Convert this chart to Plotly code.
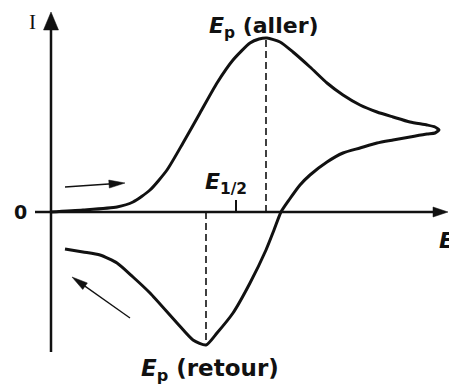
import plotly.graph_objects as go

# Cyclic voltammogram sketch: potential E (horizontal) vs current I (vertical),
# arbitrary units with the origin at the axes crossing.
E_aller = [-1, 32, 66, 82, 99, 116, 132, 149, 166, 182, 199, 208, 216, 229, 242,
           259, 276, 292, 309, 326, 342, 359, 376, 384, 388]
I_aller = [0, 2, 5, 10, 22, 42, 69, 99, 129, 152, 169, 173, 174, 170, 160,
           145, 129, 117, 107, 100, 95, 90, 87, 85, 82]

E_retour = [388, 384, 376, 359, 342, 326, 309, 292, 276, 259, 249, 238, 230, 223,
            215, 199, 182, 166, 155, 142, 126, 99, 82, 66, 49, 32, 14]
I_retour = [82, 79, 78, 75, 72, 69, 64, 59, 50, 37, 27, 12, 0, -18,
            -38, -71, -101, -121, -133, -128, -111, -81, -65, -51, -43, -40, -37]

E_peak_aller = 215
I_peak_aller = 174
E_peak_retour = 155
I_peak_retour = -133
E_half = 185

X_RANGE = [-51, 398]
Y_RANGE = [-179, 212]

INK = "#111111"
FONT = "DejaVu Sans"

fig = go.Figure()

# the voltammogram itself (one continuous sweep, out and back)
fig.add_trace(go.Scatter(
    x=E_aller + E_retour[1:], y=I_aller + I_retour[1:],
    mode="lines", line=dict(color=INK, width=3, shape="spline", smoothing=0.6),
    hoverinfo="skip", showlegend=False))

shapes = []


def arrow_head(tip, tail, length, width):
    """Filled triangular head at `tip`, pointing away from `tail`."""
    dx, dy = tip[0] - tail[0], tip[1] - tail[1]
    n = (dx * dx + dy * dy) ** 0.5
    ux, uy = dx / n, dy / n
    bx, by = tip[0] - ux * length, tip[1] - uy * length
    px, py = -uy * width / 2, ux * width / 2
    path = (f"M{tip[0]},{tip[1]} L{bx + px},{by + py} "
            f"L{bx - px},{by - py} Z")
    return dict(type="path", path=path, xref="x", yref="y",
                fillcolor=INK, line=dict(color=INK, width=0.5))


def arrow(tail, tip, lw, length, width):
    dx, dy = tip[0] - tail[0], tip[1] - tail[1]
    n = (dx * dx + dy * dy) ** 0.5
    end = (tip[0] - dx / n * length * 0.8, tip[1] - dy / n * length * 0.8)
    shapes.append(dict(type="line", x0=tail[0], y0=tail[1], x1=end[0], y1=end[1],
                       xref="x", yref="y", line=dict(color=INK, width=lw)))
    shapes.append(arrow_head(tip, tail, length, width))


# axes
arrow((0, -140), (0, 200), 2.5, 18, 15)
arrow((-16, 0), (397, 0), 2.5, 15, 10)

# sweep direction arrows
arrow((14, 25), (74, 29), 1.5, 16, 8)
arrow((79, -106), (21, -65), 1.3, 16, 8)

# E1/2 tick
shapes.append(dict(type="line", x0=E_half, x1=E_half, y0=0, y1=12,
                   xref="x", yref="y", line=dict(color=INK, width=2)))

# peak potentials
for ex, iy in [(E_peak_aller, I_peak_aller), (E_peak_retour, I_peak_retour)]:
    shapes.append(dict(type="line", x0=ex, x1=ex, y0=0, y1=iy,
                       xref="x", yref="y",
                       line=dict(color=INK, width=1.6, dash="7px,4px")))

label_font = dict(family=FONT, size=22, color=INK, weight="bold")

annotations = [
    dict(x=E_peak_aller - 2, y=I_peak_aller + 11,
         text="<i>E</i><sub>p</sub> (aller)", font=label_font,
         xanchor="center", yanchor="middle", showarrow=False),
    dict(x=E_peak_retour + 4, y=I_peak_retour - 25,
         text="<i>E</i><sub>p</sub> (retour)",
         font=dict(family=FONT, size=23, color=INK, weight="bold"),
         xanchor="center", yanchor="middle", showarrow=False),
    dict(x=E_half - 10, y=29, text="<i>E</i><sub>1/2</sub>", font=label_font,
         xanchor="center", yanchor="middle", showarrow=False),
    dict(x=-19, y=190, text="I",
         font=dict(family="Liberation Serif", size=21, color=INK),
         xanchor="center", yanchor="middle", showarrow=False),
    dict(x=-31, y=0, text="0",
         font=dict(family=FONT, size=19, color=INK, weight="bold"),
         xanchor="center", yanchor="middle", showarrow=False),
    dict(x=386, y=-28, text="<i>E</i>",
         font=dict(family=FONT, size=22, color=INK, weight="bold"),
         xanchor="left", yanchor="middle", showarrow=False),
]

fig.update_layout(
    width=449, height=391,
    margin=dict(l=0, r=0, t=0, b=0),
    paper_bgcolor="white", plot_bgcolor="white",
    xaxis=dict(range=X_RANGE, visible=False, fixedrange=True),
    yaxis=dict(range=Y_RANGE, visible=False, fixedrange=True),
    shapes=shapes, annotations=annotations,
    showlegend=False,
)

fig.write_html("out.html")
